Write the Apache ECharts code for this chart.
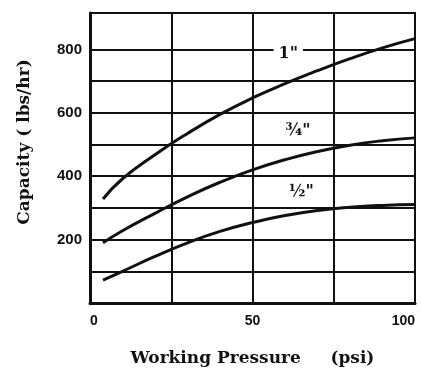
<!DOCTYPE html>
<html>
<head>
<meta charset="utf-8">
<script src="https://cdn.jsdelivr.net/npm/echarts@6/dist/echarts.min.js"></script>
<style>
  html, body { margin: 0; padding: 0; background: #fff; }
  #chart { width: 422px; height: 372px; }
</style>
</head>
<body>
<div id="chart"></div>
<script>
// Working pressure (psi) sampled along each curve
const pressure = [4, 10, 20, 30, 40, 50, 60, 70, 80, 90, 100];
// Capacity (lbs/hr) for each pipe size
const cap1in  = [328, 392, 468, 535, 595, 647, 692, 733, 771, 805, 834];
const cap34in = [190, 228, 283, 335, 381, 420, 452, 478, 498, 512, 521];
const cap12in = [72, 100, 147, 190, 226, 254, 276, 292, 302, 308, 311];
const sizeNames = ['1"', '\u00BE"', '\u00BD"'];
// Axis tick labels and ruled lines
const xTickLabels = [0, 50, 100];
const yTickLabels = [200, 400, 600, 800];
const ruleValues = [100, 200, 300, 400, 500, 600, 700, 800];

const INK = '#111';
const pts = arr => pressure.map((p, i) => [p, arr[i]]);

function curve(name, values, labelCoord, extra) {
  return Object.assign({
    name: name,
    type: 'line',
    data: pts(values),
    smooth: 0.5,
    symbol: 'none',
    silent: true,
    z: 3,
    lineStyle: { color: INK, width: 3 },
    markPoint: {
      z: 10,
      silent: true,
      symbol: 'rect',
      symbolSize: 0,
      data: [{ coord: labelCoord, value: name }],
      label: {
        show: true,
        position: 'inside',
        formatter: name,
        color: INK,
        fontFamily: 'DejaVu Serif',
        fontWeight: 'bold',
        fontSize: 16,
        backgroundColor: '#fff',
        padding: [1, 5]
      }
    }
  }, extra || {});
}

const chart = echarts.init(document.getElementById('chart'), null, { renderer: 'canvas' });
chart.setOption({
  animation: false,
  backgroundColor: '#fff',
  grid: {
    left: 90, right: 7, top: 13, bottom: 60,
    show: true, borderColor: INK, borderWidth: 2, backgroundColor: '#fff'
  },
  xAxis: {
    type: 'value',
    min: 0, max: 100, interval: 25,
    name: 'Working Pressure     (psi)',
    nameLocation: 'middle',
    nameGap: 47,
    nameTextStyle: { color: INK, fontFamily: 'DejaVu Serif', fontWeight: 'bold', fontSize: 17 },
    axisLine: { show: true, lineStyle: { color: INK, width: 3 } },
    axisTick: { show: false },
    axisLabel: {
      color: INK, fontFamily: 'Liberation Sans', fontWeight: 'bold', fontSize: 14, margin: 11,
      alignMinLabel: 'left', alignMaxLabel: 'right',
      formatter: v => xTickLabels.includes(v) ? String(v) : ''
    },
    splitLine: { show: true, lineStyle: { color: INK, width: 2 } }
  },
  yAxis: {
    type: 'value',
    min: 0, max: 915, interval: 100,
    name: 'Capacity ( lbs/hr)',
    nameLocation: 'middle',
    nameGap: 57,
    nameTextStyle: {
      color: INK, fontFamily: 'DejaVu Serif', fontWeight: 'bold', fontSize: 17,
      padding: [0, 0, 0, 32]
    },
    axisLine: { show: true, lineStyle: { color: INK, width: 3 } },
    axisTick: { show: false },
    axisLabel: {
      color: INK, fontFamily: 'Liberation Sans', fontWeight: 'bold', fontSize: 15, margin: 8,
      formatter: v => yTickLabels.includes(v) ? String(v) : ''
    },
    splitLine: { show: false }
  },
  series: [
    curve(sizeNames[0], cap1in, [61, 785], {
      markLine: {
        z: 1,
        silent: true,
        symbol: ['none', 'none'],
        label: { show: false },
        lineStyle: { color: INK, width: 2, type: 'solid' },
        data: ruleValues.map(v => ({ yAxis: v }))
      }
    }),
    curve(sizeNames[1], cap34in, [64, 542]),
    curve(sizeNames[2], cap12in, [65, 352])
  ]
});
</script>
</body>
</html>
